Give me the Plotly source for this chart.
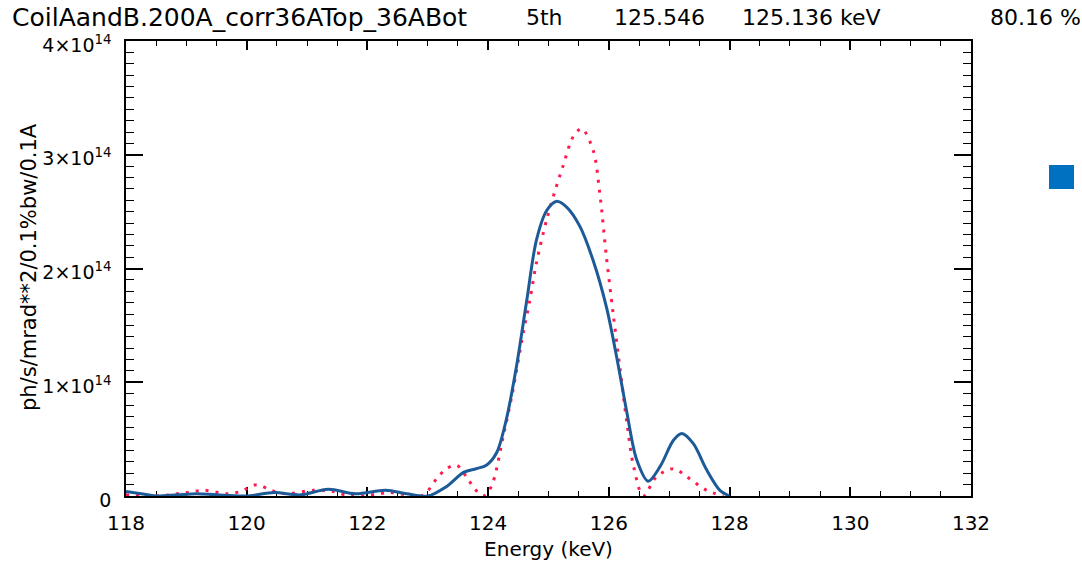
import plotly.graph_objects as go
import numpy as np

UNIT = 1e14

# Blue (solid) spectrum
energy_blue = [118.0, 118.25, 118.5, 118.85, 119.17, 119.5, 120.0, 120.45, 120.9, 121.35,
               121.8, 122.3, 122.65, 123.0, 123.3, 123.6, 123.8, 123.97, 124.14, 124.3,
               124.47, 124.64, 124.8, 124.97, 125.13, 125.3, 125.52, 125.74, 125.96, 126.13,
               126.3, 126.46, 126.65, 126.85, 127.07, 127.21, 127.4, 127.62, 127.84, 128.0]
flux_blue = [0.04, 0.02, 0.0, 0.01, 0.02, 0.01, 0.0, 0.03, 0.01, 0.06,
             0.02, 0.05, 0.02, 0.0, 0.08, 0.21, 0.24, 0.27, 0.38, 0.67,
             1.14, 1.72, 2.25, 2.51, 2.59, 2.54, 2.37, 2.07, 1.66, 1.22,
             0.73, 0.32, 0.13, 0.26, 0.49, 0.55, 0.46, 0.23, 0.05, 0.0]

# Red (dotted) spectrum
energy_red = [118.0, 118.5, 119.0, 119.3, 119.67, 119.9, 120.17, 120.4, 120.66, 121.1,
              121.43, 121.71, 122.0, 122.37, 122.65, 122.92, 123.15, 123.31, 123.48, 123.64,
              123.78, 123.92, 124.05, 124.26, 124.4, 124.58, 124.69, 124.8, 124.97, 125.13,
              125.24, 125.41, 125.55, 125.74, 125.85, 125.96, 126.07, 126.18, 126.3, 126.41,
              126.57, 126.79, 127.07, 127.29, 127.62, 127.9]
flux_red = [0.01, 0.0, 0.03, 0.05, 0.02, 0.04, 0.10, 0.05, 0.02, 0.05,
            0.04, 0.0, 0.005, 0.03, 0.01, 0.005, 0.155, 0.24, 0.27, 0.17,
            0.06, 0.0, 0.08, 0.55, 0.9, 1.43, 1.72, 2.05, 2.43, 2.72,
            2.90, 3.16, 3.23, 3.04, 2.66, 2.10, 1.61, 1.14, 0.64, 0.26,
            0.0, 0.17, 0.24, 0.17, 0.05, 0.0]

x_ticks = [118, 120, 122, 124, 126, 128, 130, 132]
y_tickvals = [0, 1, 2, 3, 4]
y_ticktext = ["0", "1×10<sup>14</sup>", "2×10<sup>14</sup>", "3×10<sup>14</sup>", "4×10<sup>14</sup>"]

title_parts = ["CoilAandB.200A_corr36ATop_36ABot", "5th", "125.546", "125.136 keV", "80.16 %"]
title_px = [10, 524, 612, 740, 988]
y_title = "ph/s/mrad**2/0.1%bw/0.1A"

W, H = 1082, 561
L, R, T, B = 126, 971, 41, 496
FONT = "DejaVu Sans"

fig = go.Figure()
fig.add_trace(go.Scatter(
    x=energy_red, y=np.array(flux_red) * UNIT, mode="lines",
    line=dict(color="#ff1a4f", width=3, dash="3px,7px", shape="spline", smoothing=0.9),
    showlegend=False, hoverinfo="skip"))
fig.add_trace(go.Scatter(
    x=energy_blue, y=np.array(flux_blue) * UNIT, mode="lines",
    line=dict(color="#1d5a98", width=3, shape="spline", smoothing=0.9),
    showlegend=False, hoverinfo="skip"))

def px2paper_x(px):
    return (px - L) / (R - L)

def py2paper_y(py):
    return (B - py) / (B - T)

annotations = []
for i, (txt, px) in enumerate(zip(title_parts, title_px)):
    annotations.append(dict(text=txt, x=px2paper_x(px), y=py2paper_y(18), xref="paper", yref="paper",
                            xanchor="left", yanchor="middle", showarrow=False,
                            font=dict(family=FONT, size=25 if i == 0 else 22, color="black")))
annotations.append(dict(text=y_title, x=px2paper_x(29), y=py2paper_y(267), xref="paper", yref="paper",
                        xanchor="center", yanchor="middle", showarrow=False, textangle=-90,
                        font=dict(family=FONT, size=21, color="black")))

fig.update_layout(
    width=W, height=H,
    margin=dict(l=L, r=W - R, t=T, b=H - B, pad=0, autoexpand=False),
    paper_bgcolor="white", plot_bgcolor="white",
    font=dict(family=FONT, size=19, color="black"),
    annotations=annotations,
    shapes=[dict(type="rect", xref="paper", yref="paper",
                 x0=px2paper_x(1049), x1=px2paper_x(1074),
                 y0=py2paper_y(189), y1=py2paper_y(165),
                 fillcolor="#0070c0", line=dict(width=0))],
    xaxis=dict(range=[118, 132], tickvals=x_ticks, ticks="inside", ticklen=9, tickwidth=1.5,
               tickcolor="black", showline=True, linecolor="black", linewidth=1.5, mirror="ticks",
               showgrid=False, zeroline=False, layer="below traces", automargin=False,
               minor=dict(ticks="inside", ticklen=5, dtick=0.5, tickcolor="black", tickwidth=1.2),
               tickfont=dict(size=20), ticklabelstandoff=8,
               title=dict(text="Energy (keV)", font=dict(size=20), standoff=12)),
    yaxis=dict(range=[0, 4 * UNIT], tickvals=[v * UNIT for v in y_tickvals], ticktext=y_ticktext,
               ticks="inside", ticklen=17, tickwidth=1.5, tickcolor="black",
               showline=True, linecolor="black", linewidth=1.5, mirror="ticks",
               showgrid=False, zeroline=False, layer="below traces", automargin=False,
               minor=dict(ticks="inside", ticklen=8, dtick=0.1 * UNIT, tickcolor="black", tickwidth=1.2),
               tickfont=dict(size=19), ticklabelstandoff=9, ticklabelshift=4),
)

fig.write_html("out.html")
